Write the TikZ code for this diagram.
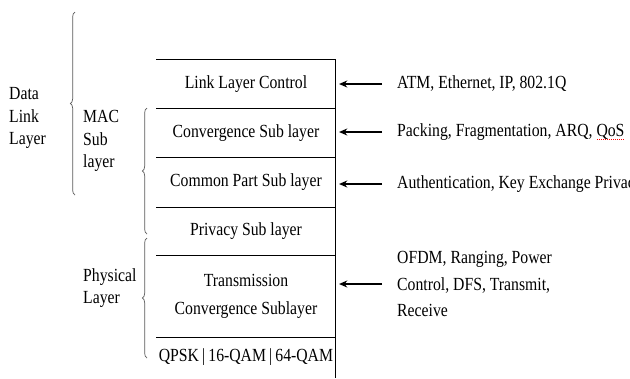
\documentclass[tikz,border=0pt]{standalone}
\usepackage{fontspec}
\setmainfont{Liberation Serif}[FakeStretch=0.85]
\usetikzlibrary{positioning,arrows.meta,decorations.pathreplacing}
\newcommand\spellwave[1]{\leavevmode\setbox0\hbox{#1}%
  \rlap{\raisebox{-3pt}{\textcolor{red}{\hbox to \wd0{\xleaders\hbox to 1.6pt{\hss\rule{0.8pt}{0.8pt}\hss}\hfill}}}}\box0}
\tikzset{
  layerbox/.style={minimum width=5.37cm,inner sep=0pt,align=center,
                   font=\fontsize{15.8}{24}\selectfont},
  duty/.style={anchor=west,inner xsep=0.45cm,inner ysep=0pt,align=left,
               font=\fontsize{15.8}{23}\selectfont},
  grp/.style={anchor=west,inner sep=0pt,align=left,
              font=\fontsize{15.8}{19.2}\selectfont},
  arr/.style={-{Stealth[length=7pt,width=6pt]},line width=1.1pt,shorten >=0.1cm},
  curly/.style={draw=black!65,line width=0.6pt,decorate,
                decoration={brace,amplitude=4pt}},
}
\begin{document}
\begin{tikzpicture}[x=0.03cm,y=-0.03cm,node distance=0pt]
  \clip (0,0) rectangle (630,378);
  % protocol stack
  \node[layerbox,minimum height=1.44cm] (llc) at (246,84) {Link Layer Control};
  \node[layerbox,minimum height=1.47cm,below=of llc] (cs) {Convergence Sub layer};
  \node[layerbox,minimum height=1.47cm,below=of cs] (cps) {Common Part Sub layer};
  \node[layerbox,minimum height=1.44cm,below=of cps] (priv) {Privacy Sub layer};
  \node[layerbox,minimum height=2.43cm,below=of priv] (tc) {Transmission\\Convergence Sublayer};
  \node[layerbox,minimum height=1.2cm,below=of tc] (phy) {QPSK\,|\,16-QAM\,|\,64-QAM};
  \foreach \n in {llc,cs,cps,priv,tc,phy}
    \draw[line width=0.8pt] (\n.north west) -- (\n.north east);
  \draw[line width=0.8pt] (llc.north east) -- (phy.south east);

  % functions
  \node[duty] (atm) at (382,84) {ATM, Ethernet, IP, 802.1Q};
  \node[duty] (pack) at (382,132) {Packing, Fragmentation, ARQ, \spellwave{QoS}};
  \node[duty] (auth) at (382,184) {Authentication, Key Exchange Privacy};
  \node[duty] (ofdm) at (382,284) {OFDM, Ranging, Power\\Control, DFS, Transmit,\\Receive};
  \foreach \a/\b in {atm/llc,pack/cs,auth/cps,ofdm/tc}
    \draw[arr] (\a.west) -- (\a.west -| \b.east);

  % groups
  \node[grp] (dll) at (9,118) {Data\\Link\\Layer};
  \node[grp] (mac) at (83,141) {MAC\\Sub\\layer};
  \node[grp] (pl) at (83,288) {Physical\\Layer};
  \draw[curly] (75,195) -- (75,12);
  \draw[curly] (147,234) -- (147,108);
  \draw[curly] (147,358) -- (147,238);
\end{tikzpicture}
\end{document}
